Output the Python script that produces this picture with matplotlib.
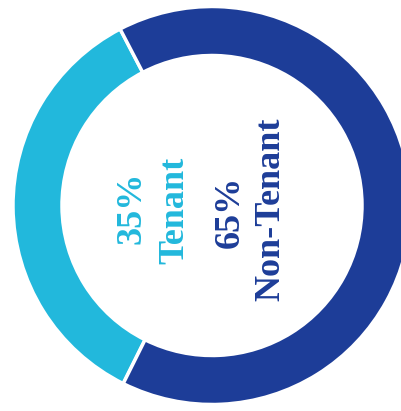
import matplotlib.pyplot as plt

labels = ['Tenant', 'Non-Tenant']
shares = [35, 65]
colors = ['#22b8dc', '#1d3d98']

fig = plt.figure(figsize=(4.02, 4.11), dpi=100)
ax = fig.add_axes([0, 0, 1, 1])

# donut, centre a bit right of the middle so the right edge gets cut off
ax.pie(shares, colors=colors, center=(212, 411 - 205.5), radius=199,
       startangle=117.5, counterclock=True,
       wedgeprops=dict(width=49, edgecolor='white', linewidth=2.5))
ax.set_xlim(0, 402)
ax.set_ylim(0, 411)
ax.set_aspect('equal')
ax.axis('off')

font = dict(family='Liberation Serif', weight='bold', size=26,
            rotation=90, ha='center', va='center')
ax.text(132, 411 - 208, f'{shares[0]}%', color=colors[0], **font)
ax.text(175, 411 - 210, labels[0], color=colors[0], **font)
ax.text(230, 411 - 212, f'{shares[1]}%', color=colors[1], **font)
ax.text(271, 411 - 209, labels[1], color=colors[1], **font)

fig.savefig('out.png', dpi=100)
